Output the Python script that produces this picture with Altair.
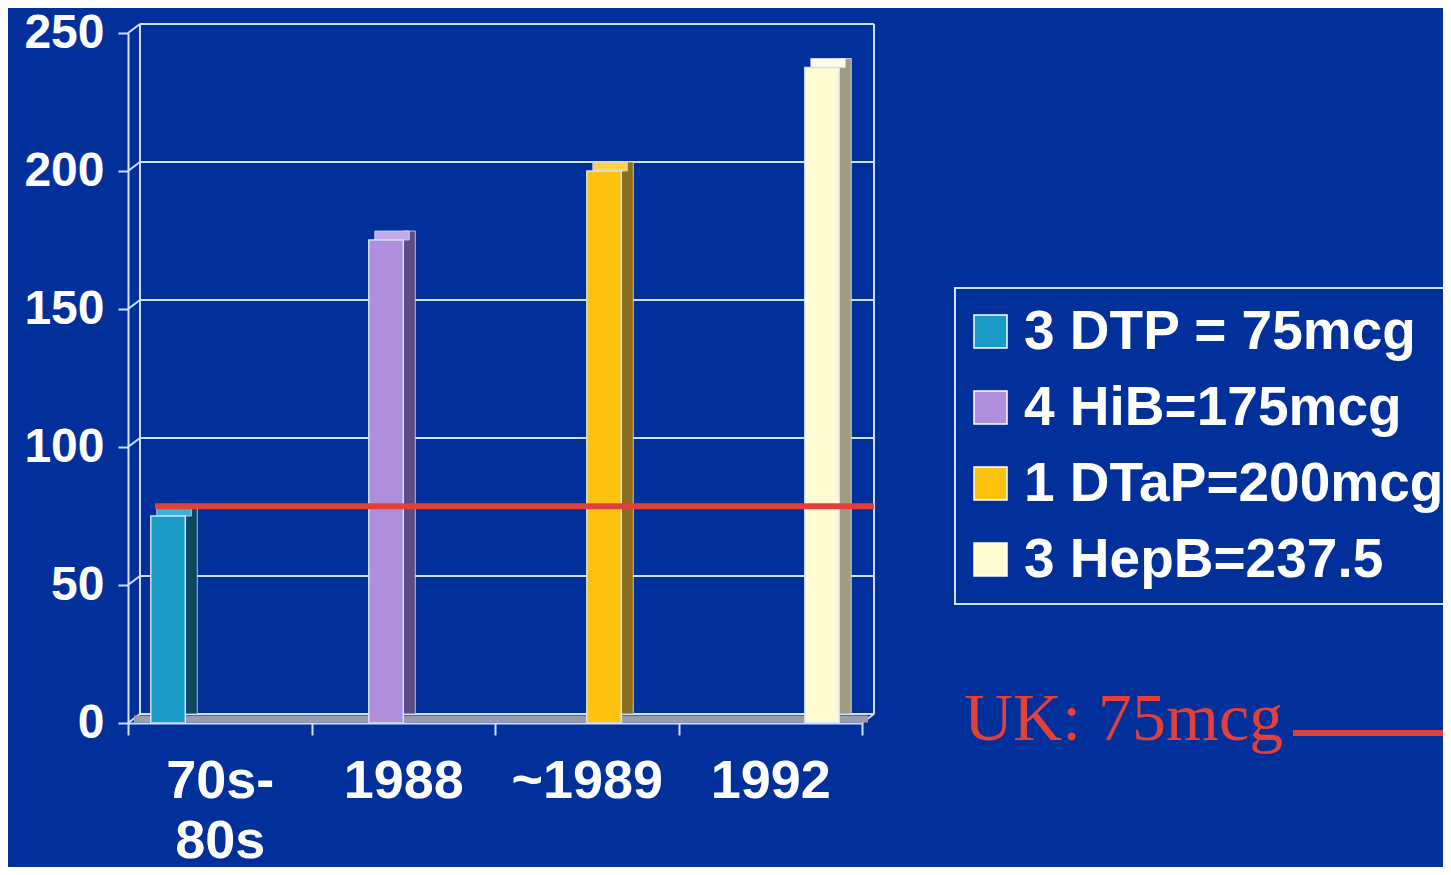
import altair as alt
import pandas as pd

# ---- data ----
categories = ["70s- 80s", "1988", "~1989", "1992"]
series = ["3 DTP = 75mcg", "4 HiB=175mcg", "1 DTaP=200mcg", "3 HepB=237.5"]
values = [75, 175, 200, 237.5]
uk_line_value = 78.5
y_ticks = [0, 50, 100, 150, 200, 250]
annotation_text = ["UK: 75mcg"]

# ---- styles ----
front_colors = ["#1899c6", "#b08ede", "#ffc20f", "#fffbd2"]
side_colors = ["#0c4862", "#5c4a84", "#8c6e1c", "#a09c84"]
top_colors = ["#3ab0d8", "#c4a8ec", "#ffd24a", "#fffde6"]
BG = "#02309a"
LINE = "#cfe0ff"
RED = "#e2403a"

W, H = 734, 690
DX, DY = 12, -9
BAND = W / len(categories)
SLOT = 34.5
START = 22.8

df = pd.DataFrame({
    "cat": categories,
    "series": series,
    "value": values,
    "front": front_colors,
    "side": side_colors,
    "top": top_colors,
})
grid_df = pd.DataFrame({"v": y_ticks})

yscale = alt.Scale(domain=[0, 250], nice=False, zero=True)
xscale = alt.Scale(domain=categories, paddingInner=0, paddingOuter=0)

x_axis = alt.Axis(
    title=None, labelAngle=0, tickBand="extent", tickSize=12,
    labelFontSize=54, labelFont="Liberation Sans", labelFontWeight="bold",
    labelColor="white", labelPadding=19, labelLineHeight=60,
    labelExpr="split(datum.label, ' ')",
    domainColor=LINE, domainWidth=2, tickColor=LINE, tickWidth=2,
)
y_axis = alt.Axis(
    title=None, values=y_ticks, grid=False, tickSize=10,
    labelFontSize=48, labelFont="Liberation Sans", labelFontWeight="bold",
    labelColor="white", labelPadding=14,
    domainColor=LINE, domainWidth=2, tickColor=LINE, tickWidth=2,
)

# back wall gridlines
grid = alt.Chart(grid_df).mark_rule(color=LINE, strokeWidth=2, yOffset=DY).encode(
    y=alt.Y("v:Q", scale=yscale, axis=y_axis), x=alt.value(DX), x2=alt.value(W + DX)
)
connectors = alt.Chart(grid_df).mark_rule(color=LINE, strokeWidth=2, y2Offset=DY).encode(
    y=alt.Y("v:Q", scale=yscale), y2=alt.Y2("v:Q"), x=alt.value(0), x2=alt.value(DX)
)
wall_left = alt.Chart(grid_df).mark_rule(color=LINE, strokeWidth=2, yOffset=DY, y2Offset=DY).encode(
    y=alt.Y("max(v):Q", scale=yscale), y2=alt.Y2("min(v):Q"), x=alt.value(DX)
)
wall_right = alt.Chart(grid_df).mark_rule(color=LINE, strokeWidth=2, yOffset=DY, y2Offset=DY).encode(
    y=alt.Y("max(v):Q", scale=yscale), y2=alt.Y2("min(v):Q"), x=alt.value(W + DX)
)
corner = alt.Chart(grid_df).mark_rule(color=LINE, strokeWidth=2, y2Offset=DY).encode(
    y=alt.Y("min(v):Q", scale=yscale), y2=alt.Y2("min(v):Q"), x=alt.value(W), x2=alt.value(W + DX)
)
floor = alt.Chart(grid_df).mark_rule(color="#9b9cab", strokeWidth=7, yOffset=-4).encode(
    y=alt.Y("min(v):Q", scale=yscale), x=alt.value(DX / 2), x2=alt.value(W + DX / 2)
)

# 3D bars, one set of faces per series (each series sits in its own slot of its category)
bar_layers = []
for i, s in enumerate(series):
    b0 = (START + i * SLOT) / BAND
    b1 = (START + (i + 1) * SLOT) / BAND
    bd = DX / BAND
    sub = alt.Chart(df).transform_filter(alt.datum.series == s)
    side = sub.mark_bar(yOffset=DY, y2Offset=DY, stroke=LINE, strokeWidth=0.8).encode(
        x=alt.X("cat:N", scale=xscale, bandPosition=b1, axis=x_axis),
        x2=alt.X2("cat:N", bandPosition=b1 + bd),
        y=alt.Y("value:Q", scale=yscale), y2=alt.datum(0),
        color=alt.Color("side:N", scale=None),
    )
    top = sub.mark_bar(yOffset=DY, stroke=LINE, strokeWidth=0.8).encode(
        x=alt.X("cat:N", scale=xscale, bandPosition=b0 + bd / 2),
        x2=alt.X2("cat:N", bandPosition=b1 + bd / 2),
        y=alt.Y("value:Q", scale=yscale), y2=alt.Y2("value:Q"),
        color=alt.Color("top:N", scale=None),
    )
    front = sub.mark_bar(stroke=LINE, strokeWidth=1.5).encode(
        x=alt.X("cat:N", scale=xscale, bandPosition=b0),
        x2=alt.X2("cat:N", bandPosition=b1),
        y=alt.Y("value:Q", scale=yscale),
        y2=alt.datum(0),
        fill=alt.Fill(
            "series:N",
            scale=alt.Scale(domain=series, range=front_colors),
            legend=alt.Legend(
                title=None, orient="none", legendX=827, legendY=255,
                symbolType="square", symbolSize=1089, symbolStrokeColor="white",
                symbolStrokeWidth=1.5, symbolOpacity=1, symbolOffset=-8,
                labelFontSize=55, labelFont="Liberation Sans", labelFontWeight="bold",
                labelColor="white", labelOffset=6, labelLimit=600,
                rowPadding=20, padding=16, strokeColor=LINE,
                fillColor=BG,
            ),
        ),
    )
    bar_layers += [side, top, front]

red_df = pd.DataFrame({"v": [uk_line_value]})
red_line = alt.Chart(red_df).mark_rule(color=RED, strokeWidth=6).encode(
    y=alt.Y("v:Q", scale=yscale), x=alt.value(27), x2=alt.value(W + DX)
)

ann_df = pd.DataFrame({"t": annotation_text})
ann_text = alt.Chart(ann_df).mark_text(
    font="Liberation Serif", fontSize=68, color=RED, align="left", baseline="alphabetic",
).encode(text="t:N", x=alt.value(836), y=alt.value(707))
ann_line = alt.Chart(ann_df).mark_rule(color=RED, strokeWidth=6).encode(
    x=alt.value(1165), x2=alt.value(1330), y=alt.value(700)
)

chart = alt.layer(
    grid, connectors, wall_left, wall_right, corner, floor,
    *bar_layers, red_line, ann_text, ann_line,
).properties(
    width=W, height=H, background=BG,
    autosize=alt.AutoSizeParams(type="none"),
    padding={"left": 120, "top": 25, "right": 581, "bottom": 144},
).configure_view(stroke=None).configure_legend(strokeWidth=2)

chart.save("out.html", embed_options={"renderer": "svg", "actions": False})
